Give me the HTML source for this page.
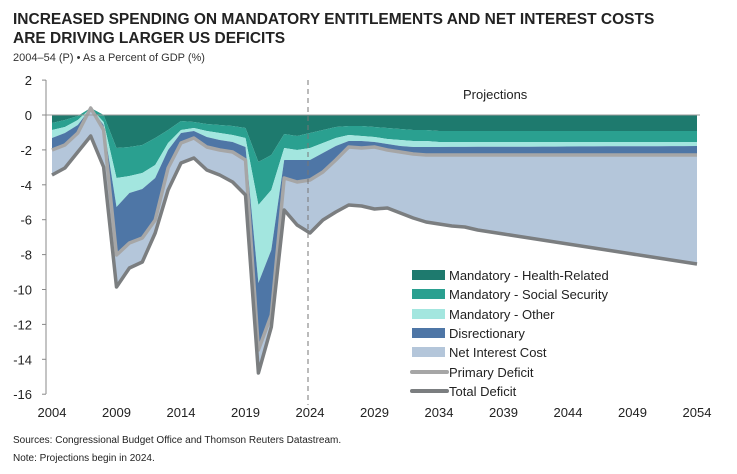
<!DOCTYPE html>
<html><head><meta charset="utf-8"><style>
body{margin:0;background:#fff;width:737px;height:469px;overflow:hidden;font-family:"Liberation Sans",sans-serif;}
</style></head><body>
<svg id="s" width="737" height="469" xmlns="http://www.w3.org/2000/svg" font-family="Liberation Sans, sans-serif">
<text x="13" y="24" font-size="15.5" font-weight="bold" fill="#222">INCREASED SPENDING ON MANDATORY ENTITLEMENTS AND NET INTEREST COSTS</text>
<text x="13" y="43" font-size="15.5" font-weight="bold" fill="#222">ARE DRIVING LARGER US DEFICITS</text>
<text x="13" y="61" font-size="11" fill="#333">2004–54 (P) • As a Percent of GDP (%)</text>
<g id="areas"></g>
<line x1="46" y1="115" x2="700" y2="115" stroke="#999" stroke-width="1"/>
<line x1="46" y1="80" x2="46" y2="394" stroke="#888" stroke-width="1"/>
<line x1="308" y1="80" x2="308" y2="405" stroke="#777" stroke-width="1" stroke-dasharray="5,4"/>
<text x="463" y="99" font-size="13" fill="#222">Projections</text>
<g font-size="13" fill="#222" text-anchor="end" id="yl"></g>
<g font-size="13" fill="#222" text-anchor="middle" id="xl"></g>
<g font-size="13" fill="#222">
<rect x="412" y="270" width="33" height="10" fill="#1e7a6e"/><text x="449" y="280">Mandatory - Health-Related</text>
<rect x="412" y="289" width="33" height="10" fill="#2aa090"/><text x="449" y="299">Mandatory - Social Security</text>
<rect x="412" y="309" width="33" height="10" fill="#a3e6df"/><text x="449" y="319">Mandatory - Other</text>
<rect x="412" y="328" width="33" height="10" fill="#4e76a6"/><text x="449" y="338">Disrectionary</text>
<rect x="412" y="347" width="33" height="10" fill="#b4c6da"/><text x="449" y="357">Net Interest Cost</text>
<line x1="412" y1="372" x2="447" y2="372" stroke="#a6a6a6" stroke-width="4" stroke-linecap="round"/><text x="449" y="377">Primary Deficit</text>
<line x1="412" y1="391" x2="447" y2="391" stroke="#7b7e80" stroke-width="4" stroke-linecap="round"/><text x="449" y="396">Total Deficit</text>
</g>
<text x="13" y="443" font-size="10" fill="#222">Sources: Congressional Budget Office and Thomson Reuters Datastream.</text>
<text x="13" y="461" font-size="10" fill="#222">Note: Projections begin in 2024.</text>
</svg>
<script>
function X(y){return 52+(y-2004)*12.9;}
function interp(kp){var o=[];for(var y=2004;y<=2054;y++){for(var i=0;i<kp.length-1;i++){var a=kp[i],b=kp[i+1];if(y>=a[0]&&y<=b[0]){o.push(a[1]+(b[1]-a[1])*(y-a[0])/(b[0]-a[0]||1));break;}}}return o;}
function seq(start,arr){return arr.map(function(v,i){return [start+i,v];});}
var yrs=[];for(var y=2004;y<=2054;y++)yrs.push(y);
var health=interp(seq(2004,[123,120,116,108,115,148,147,145,138,130,121,122,124,125,126,128,162,155,134,136,133,130,127,126,126,127,128,129,130,130,131]).concat([[2054,131]]));
var ss=interp(seq(2004,[130,127,120,108,122,178,176,173,165,143,130,128,131,133,135,138,205,190,148,150,148,143,138,135,136,137,139,140,141,141,142]).concat([[2054,142]]));
var oth=interp(seq(2004,[138,133,125,108,125,207,193,189,178,150,133,131,137,140,142,147,283,250,160,160,160,153,146,141,141,142,144,146,147,147,147]).concat([[2054,146]]));
var prim=interp(seq(2004,[150,145,133,108,130,255,243,238,220,168,143,138,147,150,152,160,350,315,178,182,180,172,160,147,148,147,150,152,154,155,155]).concat([[2054,155]]));
var tot=interp(seq(2004,[175,168,152,136,167,287,268,262,233,190,163,158,170,175,182,195,373,327,210,225,233,220,212,205,206,209,208,213,218,222,224,226,227,230]).concat([[2054,264]]));
var zero=yrs.map(function(){return 115;});
function band(top,bot,col){var d="M";yrs.forEach(function(y,i){d+=X(y).toFixed(1)+","+top[i].toFixed(1)+" L";});for(var i=yrs.length-1;i>=0;i--){d+=X(yrs[i]).toFixed(1)+","+bot[i].toFixed(1)+(i?" L":"");}return '<path d="'+d+' Z" fill="'+col+'"/>';}
function line(v,col,w){return '<polyline points="'+yrs.map(function(y,i){return X(y).toFixed(1)+","+v[i].toFixed(1);}).join(" ")+'" fill="none" stroke="'+col+'" stroke-width="'+w+'" stroke-linejoin="round"/>';}
var h=band(zero,health,"#1e7a6e")+band(health,ss,"#2aa090")+band(ss,oth,"#a3e6df")+band(oth,prim,"#4e76a6")+band(prim,tot,"#b4c6da")+line(prim,"#a6a6a6",3.5)+line(tot,"#7b7e80",3.5);
document.getElementById("areas").innerHTML=h;
var yl="";for(var v=2;v>=-16;v-=2){var py=115-v*17.45;yl+='<text x="32" y="'+(py+5)+'">'+v+'</text><line x1="42" x2="46" y1="'+py+'" y2="'+py+'" stroke="#888"/>';}
document.getElementById("yl").innerHTML=yl;
var xl="";for(var y=2004;y<=2054;y+=5){xl+='<text x="'+X(y)+'" y="417">'+y+'</text>';}
document.getElementById("xl").innerHTML=xl;
</script>
</body></html>
